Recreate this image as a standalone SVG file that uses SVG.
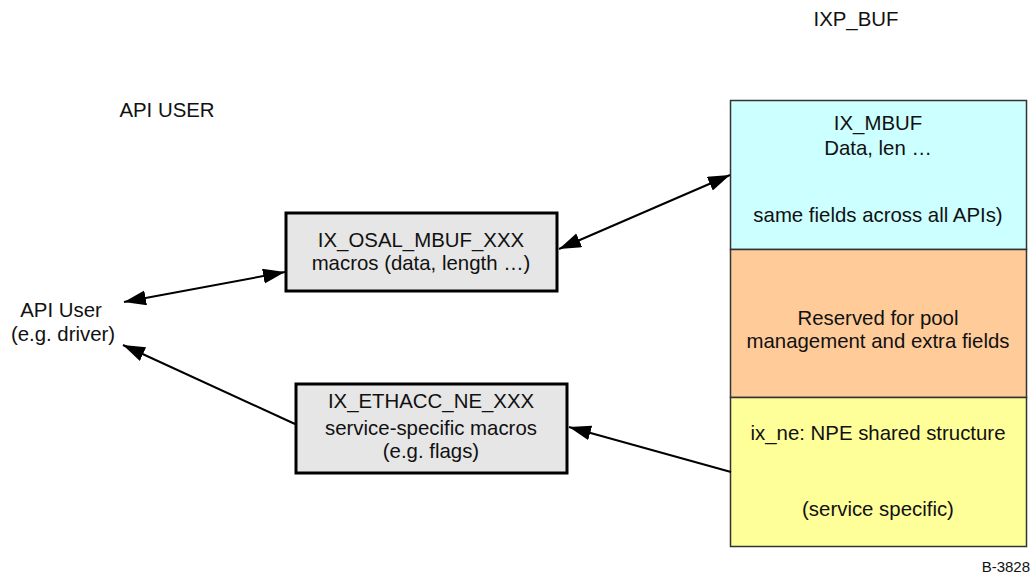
<svg xmlns="http://www.w3.org/2000/svg" width="1035" height="576" viewBox="0 0 1035 576">
  <style>
    text { font-family: "Liberation Sans", Arial, sans-serif; font-size: 20.4px; fill: #111; text-anchor: middle; }
    .macro { fill: #e6e6e6; stroke: #000; stroke-width: 3; }
    .field { stroke: #333; stroke-width: 1.5; }
    .conn { stroke: #000; stroke-width: 2; fill: none; }
    .small { font-size: 15px; text-anchor: end; }
  </style>
  <defs>
    <marker id="arrow" markerUnits="userSpaceOnUse" markerWidth="24" markerHeight="16" refX="22" refY="7.5" orient="auto-start-reverse">
      <path d="M0,0 L22,7.5 L0,15 Z" fill="#000"/>
    </marker>
  </defs>
  <rect width="1035" height="576" fill="#fff"/>

  <g id="headings">
    <text x="856" y="26">IXP_BUF</text>
    <text x="167" y="117">API USER</text>
  </g>

  <!-- buffer layout: three stacked regions -->
  <g id="ix-mbuf">
    <rect class="field" x="730.5" y="100.5" width="296" height="149" fill="#ccffff"/>
    <text x="878" y="130">IX_MBUF</text>
    <text x="878" y="155">Data, len …</text>
    <text x="878" y="222">same fields across all APIs)</text>
  </g>
  <g id="reserved">
    <rect class="field" x="730.5" y="249.5" width="296" height="148" fill="#ffcc99"/>
    <text x="878" y="325">Reserved for pool</text>
    <text x="878" y="348">management and extra fields</text>
  </g>
  <g id="ix-ne">
    <rect class="field" x="730.5" y="397.5" width="296" height="149" fill="#ffff99"/>
    <text x="878" y="440">ix_ne: NPE shared structure</text>
    <text x="878" y="516">(service specific)</text>
  </g>

  <g id="osal-macros">
    <rect class="macro" x="286" y="213" width="271" height="78"/>
    <text x="421" y="247">IX_OSAL_MBUF_XXX</text>
    <text x="421" y="270">macros (data, length …)</text>
  </g>

  <g id="ethacc-macros">
    <rect class="macro" x="296" y="384" width="271" height="89"/>
    <text x="431" y="408">IX_ETHACC_NE_XXX</text>
    <text x="431" y="435">service-specific macros</text>
    <text x="431" y="458">(e.g. flags)</text>
  </g>

  <g id="api-user">
    <text x="61" y="317">API User</text>
    <text x="63" y="341">(e.g. driver)</text>
  </g>

  <g id="connectors">
    <line class="conn" x1="124" y1="302" x2="285" y2="272" marker-start="url(#arrow)" marker-end="url(#arrow)"/>
    <line class="conn" x1="559" y1="249" x2="730" y2="175" marker-start="url(#arrow)" marker-end="url(#arrow)"/>
    <line class="conn" x1="295" y1="424" x2="123" y2="345" marker-end="url(#arrow)"/>
    <line class="conn" x1="731" y1="472" x2="569" y2="427" marker-end="url(#arrow)"/>
  </g>

  <text class="small" x="1030" y="572">B-3828</text>
</svg>
